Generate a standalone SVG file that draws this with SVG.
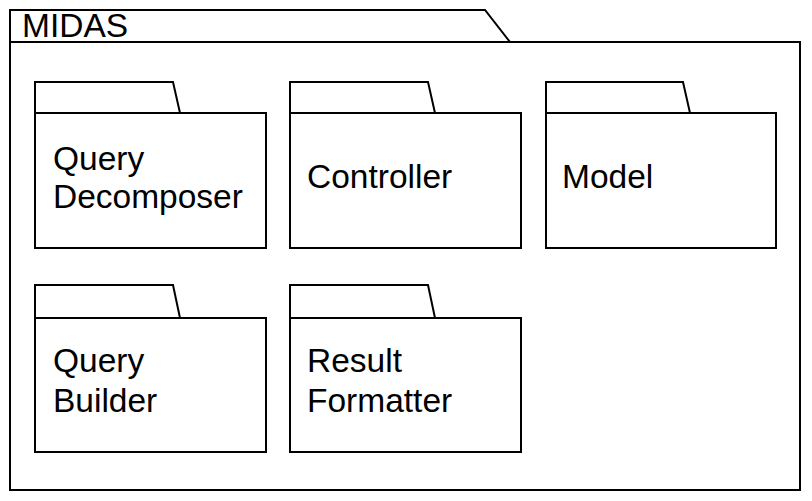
<svg xmlns="http://www.w3.org/2000/svg" width="812" height="501" viewBox="0 0 812 501">
<style>
.s{fill:#fff;stroke:#000;stroke-width:2;stroke-linejoin:miter}
.t{font-family:"Liberation Sans",Arial,sans-serif;font-size:33.5px;fill:#000}
</style>
<rect width="812" height="501" fill="#fff"/>
<g id="MIDAS">
<path class="s" d="M10,10 H485 L510,42 H800 V490 H10 Z"/>
<path class="s" d="M10,42 H510" fill="none"/>
<text class="t" x="22" y="37">MIDAS</text>
</g>
<g id="QueryDecomposer">
<path class="s" d="M35,82 H173 L180,113 H35 Z"/>
<rect class="s" x="35" y="113" width="231" height="135"/>
<text class="t" x="53" y="170">Query</text>
<text class="t" x="53" y="208">Decomposer</text>
</g>
<g id="Controller">
<path class="s" d="M290,82 H428 L435,113 H290 Z"/>
<rect class="s" x="290" y="113" width="231" height="135"/>
<text class="t" x="307" y="188">Controller</text>
</g>
<g id="Model">
<path class="s" d="M546,82 H683 L690,113 H546 Z"/>
<rect class="s" x="546" y="113" width="230" height="135"/>
<text class="t" x="562" y="188">Model</text>
</g>
<g id="QueryBuilder">
<path class="s" d="M35,285 H173 L180,318 H35 Z"/>
<rect class="s" x="35" y="318" width="231" height="134"/>
<text class="t" x="53" y="372">Query</text>
<text class="t" x="53" y="412">Builder</text>
</g>
<g id="ResultFormatter">
<path class="s" d="M290,285 H428 L435,318 H290 Z"/>
<rect class="s" x="290" y="318" width="231" height="134"/>
<text class="t" x="307" y="372">Result</text>
<text class="t" x="307" y="412">Formatter</text>
</g>
<g id="connectors"></g>
</svg>
